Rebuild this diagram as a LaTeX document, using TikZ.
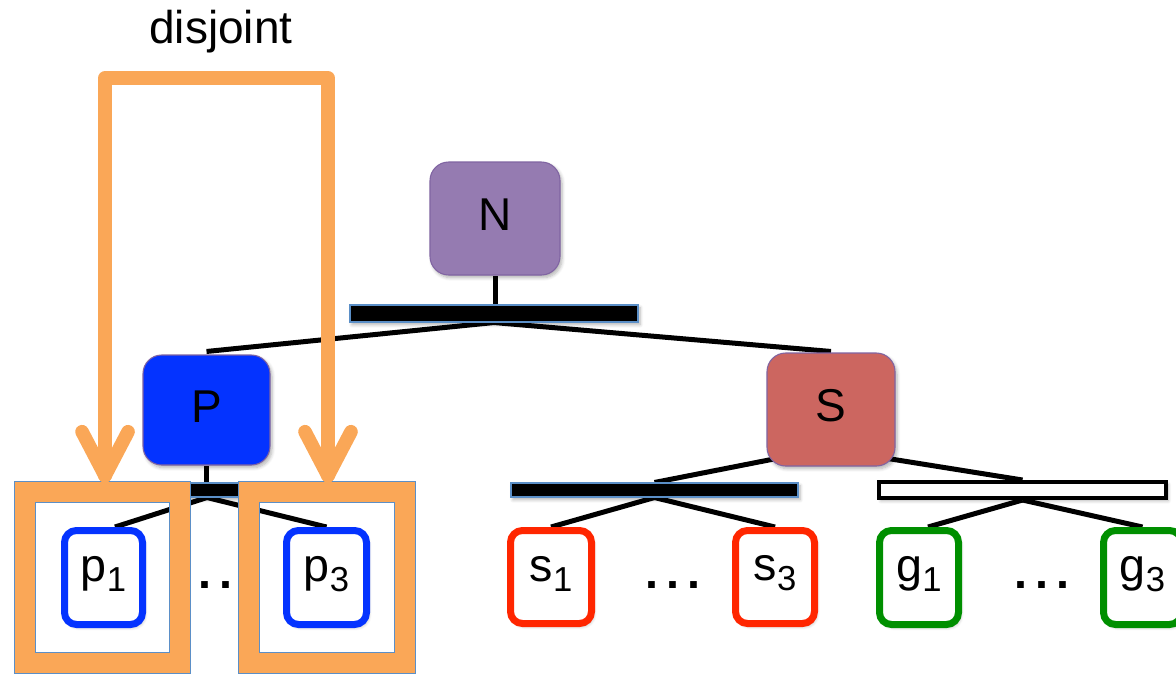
\documentclass[tikz,border=0pt]{standalone}
\usepackage{fontspec}
\setmainfont{Liberation Sans}
\usetikzlibrary{fit,backgrounds,shadows.blur}

\definecolor{nodepurple}{HTML}{957BB1}
\definecolor{edgepurple}{HTML}{8064A2}
\definecolor{pblue}{HTML}{0433FF}
\definecolor{sred}{HTML}{CC6660}
\definecolor{leafred}{HTML}{FF2600}
\definecolor{leafgreen}{HTML}{008F00}
\definecolor{disjorange}{HTML}{FAA757}
\definecolor{rimblue}{HTML}{5B8FC7}

% lowered index digit after a leaf letter
\newcommand\subidx[1]{\raisebox{-7.5pt}{\fontsize{26}{30}\selectfont #1}}

\tikzset{
  softshadow/.style={blur shadow={shadow xshift=1.5pt, shadow yshift=-2pt,
      shadow blur steps=6, shadow opacity=30, shadow blur radius=2.5pt}},
  capbox/.style={inner sep=0pt, rounded corners=14pt, draw=edgepurple,
      line width=0.8pt, softshadow, font=\fontsize{34.5}{40}\selectfont,
      execute at begin node={\lower18.4pt\hbox\bgroup},
      execute at end node={\egroup}},
  leafbox/.style={inner sep=0pt, rounded corners=9pt, line width=5.25pt,
      fill=white, softshadow, font=\fontsize{35}{40}\selectfont,
      execute at begin node={\lower13.6pt\hbox\bgroup},
      execute at end node={\egroup}},
  solidbar/.style={inner sep=0pt, fill=black, draw=rimblue, line width=0.8pt, softshadow},
  hollowbar/.style={inner sep=0pt, fill=white, draw=black, line width=3pt, softshadow},
  link/.style={line width=3.75pt},
  dotrow/.style={anchor=base, inner sep=0pt, font=\fontsize{35}{40}\selectfont\bfseries},
  disj/.style={draw=disjorange, line width=10.2pt, line cap=round, line join=round},
}

\begin{document}
\begin{tikzpicture}[x=0.75pt, y=-0.75pt]
\useasboundingbox (0,0) rectangle (1176,675);

% inner nodes and their bars
\node[capbox, fill=nodepurple, fit={(430,162)(560,275)}] (N) {N};
\node[solidbar, fit={(350,305)(638,322)}] (barN) {};
\node[capbox, fill=pblue, fit={(143,355)(270,465)}] (P) {P};
\node[capbox, fill=sred, fit={(767,353)(895,466)}] (S) {S};
\node[solidbar, fit={(157,483)(257,497)}] (barP) {};
\node[solidbar, fit={(511,483)(798,497)}] (barSL) {};
\node[hollowbar, fit={(879,482)(1166,498)}] (barSR) {};

% leaves
\node[leafbox, draw=leafred, fit={(510.5,530.5)(591.5,623.5)}] (s1) {s\subidx{1}};
\node[leafbox, draw=leafred, fit={(735.5,530.5)(814.5,623.5)}] (s3) {s\subidx{3}};
\node[leafbox, draw=leafgreen, fit={(879.5,530.5)(958.5,624.5)}] (g1) {g\subidx{1}};
\node[leafbox, draw=leafgreen, fit={(1103.5,530.5)(1181.5,624.5)}] (g3) {g\subidx{3}};

\node[dotrow] (dp) at (226,588) {.\kern6pt.\kern6pt.};
\node[dotrow] (ds) at (673,588) {.\kern6pt.\kern6pt.};
\node[dotrow] (dg) at (1042,588) {.\kern6pt.\kern6pt.};

% orange frames around the two P leaves
\node[inner sep=0pt, fit={(15,482)(190,673)}] (fp1) {};
\node[inner sep=0pt, fit={(239,482)(415,673)}] (fp3) {};
\foreach \f in {fp1,fp3}{
  \draw[disjorange, line width=15.75pt]
    ([shift={(10.5,10.5)}]\f.north west) rectangle ([shift={(-10.5,-10.5)}]\f.south east);
  \draw[rimblue, line width=0.9pt] (\f.north west) rectangle (\f.south east);
  \draw[rimblue, line width=0.9pt]
    ([shift={(21,21)}]\f.north west) rectangle ([shift={(-21,-21)}]\f.south east);
}

\node[leafbox, draw=pblue, fit={(64.5,530.5)(142.5,624.5)}] (p1) {p\subidx{1}};
\node[leafbox, draw=pblue, fit={(286.5,530.5)(366.5,624.5)}] (p3) {p\subidx{3}};

% tree edges, behind everything
\begin{scope}[on background layer]
  \draw[link] (N.south) -- (N.south |- barN.north);
  \draw[link] (barN.south) -- ([yshift=2.25pt]P.north);
  \draw[link] (barN.south) -- ([yshift=0.75pt]S.north);
  \draw[link] (P.south) -- (P.south |- barP.north);
  \draw[link] (barP.south) -- ([xshift=8.6pt]p1.north);
  \draw[link] (barP.south) -- (p3.north);
  \draw[link] ([shift={(20,-10)}]S.south west) -- (barSL.north);
  \draw[link] ([shift={(-20,-10)}]S.south east) -- (barSR.north);
  \draw[link] (barSL.south) -- (s1.north);
  \draw[link] (barSL.south) -- (s3.north);
  \draw[link] (barSR.south) -- ([xshift=6.75pt]g1.north);
  \draw[link] (barSR.south) -- (g3.north);
\end{scope}

% the "disjoint" bracket with its two open arrowheads
\coordinate (tipL) at ([xshift=1.9pt, yshift=4.5pt]fp1.north);
\coordinate (tipR) at ([xshift=0.75pt, yshift=4.5pt]fp3.north);
\coordinate (ctop) at (216,78);
\draw[disj] (tipL) |- (ctop) -| (tipR);
\draw[disj] ([shift={(-23,-44)}]tipL) -- (tipL) -- ([shift={(23,-44)}]tipL);
\draw[disj] ([shift={(-23,-44)}]tipR) -- (tipR) -- ([shift={(23,-44)}]tipR);

\node[anchor=base, inner sep=0pt, font=\fontsize{34.5}{40}\selectfont] (lbl) at (221,43) {disjoint};
\end{tikzpicture}
\end{document}
